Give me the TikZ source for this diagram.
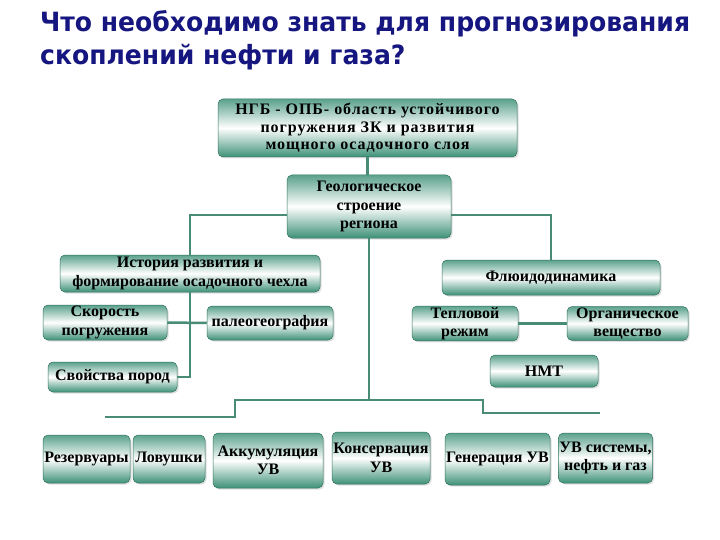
\documentclass[tikz,border=0pt]{standalone}
\usepackage{fontspec}
\setmainfont{Liberation Serif}
\newfontfamily\titlefont{DejaVu Sans Condensed}
\newfontfamily\wideserif[LetterSpace=6]{Liberation Serif}
\usetikzlibrary{shadows}
\definecolor{boxc}{RGB}{62,145,120}
\definecolor{linec}{RGB}{72,140,120}
\definecolor{titlec}{RGB}{22,22,128}
\tikzset{
  bx/.style={rounded corners=5pt, top color=boxc!85, bottom color=boxc, middle color=white,
    draw=boxc!80!black, line width=0.5pt, inner sep=1pt, align=center,
    font=\fontsize{16}{18.5}\selectfont\bfseries,
    drop shadow={shadow xshift=1.5pt, shadow yshift=-1.5pt, opacity=0.25}},
  conn/.style={draw=linec, line width=2.5pt},
  ttl/.style={anchor=base west, inner sep=0pt}
}
\newsavebox\tboxa
\newsavebox\tboxb
\begin{document}
\sbox\tboxa{\color{titlec}\titlefont\bfseries\fontsize{26.5}{30}\selectfont Что необходимо знать для прогнозирования}%
\sbox\tboxb{\color{titlec}\titlefont\bfseries\fontsize{26.5}{30}\selectfont скоплений нефти и газа?}%
\pgfmathsetmacro\tsx{650/\the\wd\tboxa}%
\begin{tikzpicture}[x=1pt,y=-1pt]
\useasboundingbox[fill=white] (0,0) rectangle (720,540);
% title
\node[ttl] (t1) at (40,32) {\scalebox{\tsx}[1]{\usebox\tboxa}};
\node[ttl] (t2) at (40,65) {\scalebox{\tsx}[1]{\usebox\tboxb}};
% coordinates
\coordinate (jy) at (0,215);
\coordinate (by) at (0,400);
\coordinate (b1) at (105,417);
\coordinate (b2) at (235,417);
\coordinate (b3) at (235,400);
\coordinate (b4) at (483,400);
\coordinate (b5) at (483,413);
\coordinate (b6) at (600,413);
% boxes
\node[bx, minimum width=299pt, minimum height=58pt, font=\wideserif\fontsize{16}{17.5}\selectfont\bfseries] (ngb) at (367.5,128)
  {НГБ - ОПБ- область устойчивого\\погружения ЗК и развития\\мощного осадочного слоя};
\node[bx, minimum width=164pt, minimum height=63pt] (geo) at (369,206.5)
  {Геологическое\\строение\\региона};
\node[bx, minimum width=260pt, minimum height=37pt] (his) at (190,273.5)
  {История развития и\\формирование осадочного чехла};
\node[bx, minimum width=218pt, minimum height=35pt] (flu) at (551,277.5)
  {Флюидодинамика};
\node[bx, minimum width=124pt, minimum height=35pt] (sko) at (105,322.5)
  {Скорость\\погружения};
\node[bx, minimum width=126pt, minimum height=34pt] (pal) at (270,323)
  {палеогеография};
\node[bx, minimum width=106pt, minimum height=33pt] (tep) at (465,323.5)
  {Тепловой\\режим};
\node[bx, minimum width=121pt, minimum height=33pt] (org) at (627.5,323.5)
  {Органическое\\вещество};
\node[bx, minimum width=129pt, minimum height=30pt] (svo) at (112.5,377)
  {Свойства пород};
\node[bx, minimum width=108pt, minimum height=32pt] (nmt) at (544,371)
  {НМТ};
\node[bx, minimum width=87pt, minimum height=48pt] (rez) at (86.5,459)
  {Резервуары};
\node[bx, minimum width=72pt, minimum height=48pt] (lov) at (169,459)
  {Ловушки};
\node[bx, minimum width=110pt, minimum height=55pt] (akk) at (268,460.5)
  {Аккумуляция\\УВ};
\node[bx, minimum width=98pt, minimum height=52pt] (kon) at (381,458)
  {Консервация\\УВ};
\node[bx, minimum width=105pt, minimum height=52pt] (gen) at (497.5,459)
  {Генерация УВ};
\node[bx, minimum width=93pt, minimum height=50pt] (uvs) at (605.5,458)
  {УВ системы,\\нефть и газ};
% connectors
\draw[conn] (ngb.south) -- (ngb.south |- geo.north);
\draw[conn] (his.north) -- (his.north |- jy) -- (geo.west |- jy);
\draw[conn] (geo.east |- jy) -- (flu.north |- jy) -- (flu.north);
\draw[conn] (geo.south) -- (geo.south |- by);
\draw[conn] (b1) -- (b2) -- (b3) -- (b4) -- (b5) -- (b6);
\draw[conn] (his.south) |- (svo.east);
\draw[conn] (sko.east) -- (pal.west);
\draw[conn] (tep.east) -- (org.west);
\end{tikzpicture}
\end{document}
